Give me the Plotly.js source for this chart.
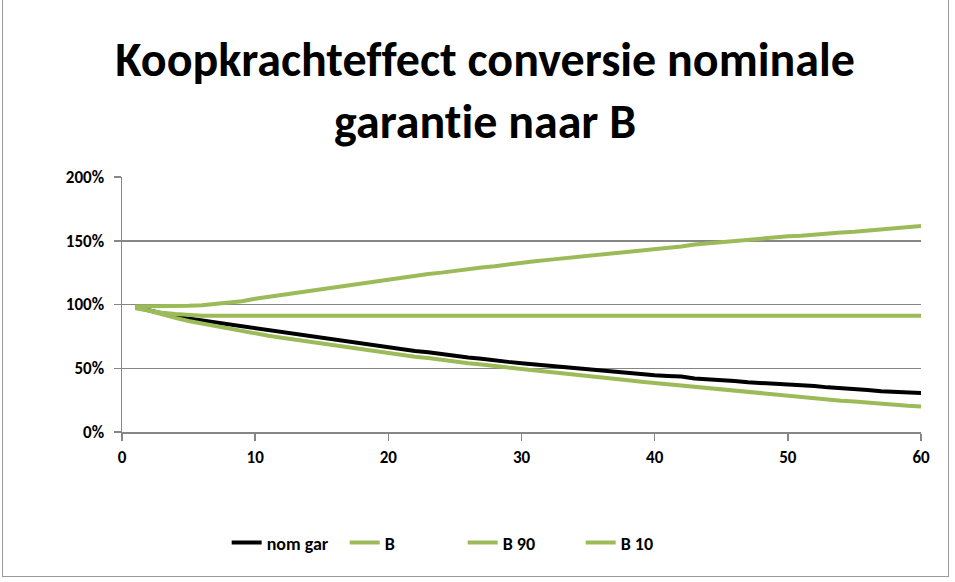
<!DOCTYPE html>
<html>
<head>
<meta charset="utf-8">
<script src="https://cdn.plot.ly/plotly-3.0.1.min.js"></script>
<style>
  html, body { margin: 0; padding: 0; background: #fff; }
  #chart { position: absolute; left: 0; top: 0; width: 955px; height: 582px; }
  #chart text { font-variant-ligatures: none; font-feature-settings: "liga" 0, "clig" 0; }
  #frame { position: absolute; left: 2px; top: -2px; width: 945px; height: 577px; border: 1px solid #9a9a9a; pointer-events: none; }
</style>
</head>
<body>
<div id="chart"></div>
<div id="frame"></div>
<script>
// Years 1..60
const years = Array.from({length: 60}, (_, i) => i + 1);

const seriesNames = ['nom gar', 'B', 'B 90', 'B 10'];

// purchasing power in %
const nomGar = [98, 95.5, 93, 90.5, 89, 87.5, 86, 84.5, 82.5, 81,
  79.5, 78, 76.5, 75, 73.5, 72, 70.5, 69, 67.5, 66.5,
  65, 63.5, 62.5, 61, 60, 58.5, 57.5, 56, 55, 54,
  53, 52, 51, 50, 49, 48, 47, 46, 45.5, 44.5,
  44, 43.5, 42, 41.5, 40.5, 40, 39, 38.5, 38, 37.5,
  36.5, 36, 35, 34.5, 33.5, 33, 32, 31.5, 31, 30.5];

const bMedian = [97, 95, 93.5, 92.5, 91.5, 91.2, 91.2, 91.2, 91.2, 91.2,
  91.2, 91.2, 91.2, 91.2, 91.2, 91.2, 91.2, 91.2, 91.2, 91.2,
  91.2, 91.2, 91.2, 91.2, 91.2, 91.2, 91.2, 91.2, 91.2, 91.2,
  91.2, 91.2, 91.2, 91.2, 91.2, 91.2, 91.2, 91.2, 91.2, 91.2,
  91.2, 91.2, 91.2, 91.2, 91.2, 91.2, 91.2, 91.2, 91.2, 91.2,
  91.2, 91.2, 91.2, 91.2, 91.2, 91.2, 91.2, 91.2, 91.2, 91.2];

const b90 = [98.5, 98.5, 98.5, 98.5, 99, 99.5, 100.5, 101.5, 102.5, 104.5,
  106, 107.5, 109, 110.5, 112, 113.5, 115, 117, 118.5, 120,
  121.5, 123, 124, 125, 126.5, 127.5, 129, 130, 131.5, 133,
  134, 135, 136, 137, 138.5, 139.5, 140.5, 141.5, 142.5, 143.5,
  144.5, 145.5, 147, 148, 149, 150, 150.5, 151.5, 152.5, 153.5,
  154, 155, 155.5, 156.5, 157, 158, 159, 159.5, 160.5, 161.5];

const b10 = [98, 95, 92, 89.5, 87, 85, 83, 81, 79, 77,
  75.5, 74, 72.5, 71, 69, 67.5, 66, 64.5, 63, 61.5,
  60.5, 59, 58, 56.5, 55.5, 54, 53, 51.5, 50.5, 49.5,
  48.3, 47, 46, 45, 44, 42.5, 41.5, 40.5, 39.5, 38.5,
  37.5, 36.5, 35, 34, 33, 32, 31, 30, 29.5, 28.5,
  27.5, 26.5, 25.5, 24.5, 24, 23, 22.5, 21.5, 20.5, 20];

const xTicks = [0, 10, 20, 30, 40, 50, 60];
const yTicks = [0, 50, 100, 150, 200];
const yTickText = ['0%', '50%', '100%', '150%', '200%'];

const black = '#000000';
const green = '#9BBB59';
const font = 'Carlito, Calibri, "Liberation Sans Narrow", "Open Sans", sans-serif';

const allSeries = [nomGar, bMedian, b90, b10];
const colors = [black, green, green, green];

const traces = allSeries.map((ys, i) => ({
  x: years, y: ys, name: seriesNames[i], type: 'scatter', mode: 'lines',
  line: {color: colors[i], width: 4}, hoverinfo: 'skip'
}));

const layout = {
  width: 955, height: 582,
  margin: {l: 122, r: 34, t: 177, b: 150},
  paper_bgcolor: '#ffffff', plot_bgcolor: '#ffffff',
  font: {family: font, color: '#000', size: 16},
  title: {
    text: 'Koopkrachteffect conversie nominale<br>garantie naar B',
    font: {family: font, size: 48, color: '#000', weight: 'bold'},
    x: 0.508, xanchor: 'center', y: 0.87, yanchor: 'middle'
  },
  xaxis: {
    range: [0, 60], tickvals: xTicks, ticktext: xTicks.map(String),
    showgrid: false, zeroline: false,
    showline: true, linecolor: '#868686', linewidth: 1.5,
    ticks: 'outside', ticklen: 7, tickcolor: '#868686', tickwidth: 1.5,
    tickfont: {family: font, size: 17, color: '#000', weight: 'bold'},
    ticklabelstandoff: 2,
    fixedrange: true
  },
  yaxis: {
    range: [0, 200], tickvals: yTicks, ticktext: yTickText,
    showgrid: true, gridcolor: '#868686', gridwidth: 1.5, zeroline: false,
    showline: true, linecolor: '#868686', linewidth: 1.5,
    ticks: 'outside', ticklen: 7, tickcolor: '#868686', tickwidth: 1.5,
    tickfont: {family: font, size: 17, color: '#000', weight: 'bold'},
    ticklabelstandoff: 6,
    fixedrange: true
  },
  showlegend: true,
  legend: {
    orientation: 'h', x: 0.131, xanchor: 'left', y: -0.435, yanchor: 'middle',
    font: {family: font, size: 18, color: '#000', weight: 'bold'},
    entrywidth: 73, entrywidthmode: 'pixels', tracegroupgap: 0
  }
};

Plotly.newPlot('chart', traces, layout, {displayModeBar: false, staticPlot: true});
</script>
</body>
</html>
